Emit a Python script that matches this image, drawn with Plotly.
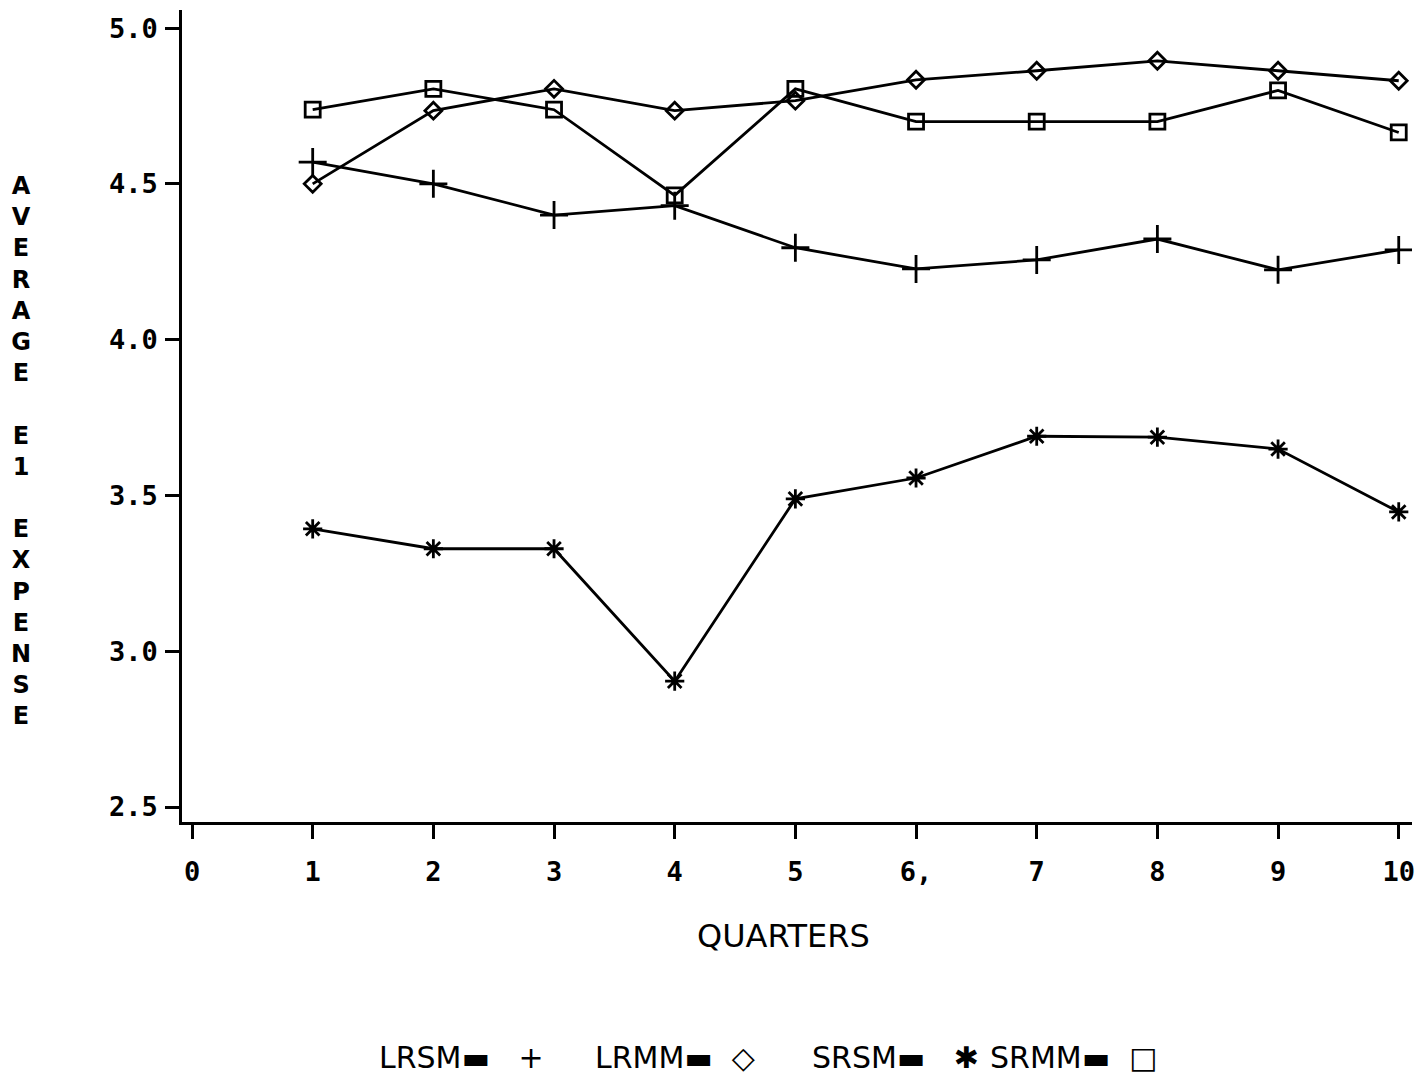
import plotly.graph_objects as go

quarters = [1, 2, 3, 4, 5, 6, 7, 8, 9, 10]
lrsm = [4.57, 4.50, 4.40, 4.43, 4.295, 4.227, 4.256, 4.323, 4.224, 4.288]
lrmm = [4.50, 4.735, 4.805, 4.735, 4.767, 4.834, 4.863, 4.895, 4.863, 4.831]
srsm = [3.393, 3.329, 3.329, 2.904, 3.489, 3.556, 3.69, 3.687, 3.649, 3.447]
srmm = [4.738, 4.805, 4.738, 4.463, 4.805, 4.70, 4.70, 4.70, 4.80, 4.665]

x_ticks = [0, 1, 2, 3, 4, 5, 6, 7, 8, 9, 10]
x_ticktext = ["0", "1", "2", "3", "4", "5", "6,", "7", "8", "9", "10"]
y_ticks = [2.5, 3.0, 3.5, 4.0, 4.5, 5.0]

series = [
    ("LRSM", lrsm, "cross-thin", 20),
    ("LRMM", lrmm, "diamond-open", 13),
    ("SRSM", srsm, "asterisk", 16),
    ("SRMM", srmm, "square-open", 15),
]

legend_items = [
    ("LRSM\u25ac\u00a0\u00a0\u00a0+", 377),
    ("LRMM\u25ac\u00a0\u00a0\u25c7", 594),
    ("SRSM\u25ac\u00a0\u00a0\u00a0\u2731", 812),
    ("SRMM\u25ac\u00a0\u00a0\u25a1", 990),
]

fig = go.Figure()
for name, vals, sym, sz in series:
    fig.add_trace(go.Scatter(
        x=quarters, y=vals, mode="lines+markers", name=name,
        line=dict(color="black", width=2.8),
        marker=dict(symbol=sym, size=sz, color="black",
                    line=dict(color="black", width=2.8)),
        showlegend=False,
    ))

tickfont = dict(family="DejaVu Sans Mono", size=27, color="black", weight="bold")

L, W = 182, 1233
fig.update_layout(
    width=1420, height=1075,
    margin=dict(l=L, r=1420 - L - W, t=10, b=253),
    paper_bgcolor="white", plot_bgcolor="white",
    xaxis=dict(
        range=[-0.083, 10.11], tickvals=x_ticks, ticktext=x_ticktext,
        showgrid=False, zeroline=False, showline=True, linecolor="black",
        linewidth=2.8, ticks="outside", ticklen=14, tickwidth=2.8,
        tickcolor="black", tickfont=tickfont, ticklabelstandoff=10,
    ),
    yaxis=dict(
        range=[2.452, 5.058], tickvals=y_ticks, tickformat=".1f",
        showgrid=False, zeroline=False, showline=True, linecolor="black",
        linewidth=2.8, ticks="outside", ticklen=14, tickwidth=2.8,
        tickcolor="black", tickfont=tickfont, ticklabelstandoff=2,
    ),
)

ylabel = "<br>".join(list("AVERAGE") + [" "] + list("E1") + [" "] + list("EXPENSE"))
fig.add_annotation(
    text=ylabel, xref="paper", yref="paper", x=-0.131, y=0.457,
    xanchor="center", yanchor="middle", showarrow=False, align="center",
    font=dict(family="DejaVu Sans", size=24, color="black", weight="bold"),
)
fig.add_annotation(
    text="QUARTERS", xref="paper", yref="paper", x=(785 - L) / W, y=-0.14,
    xanchor="center", yanchor="middle", showarrow=False,
    font=dict(family="DejaVu Sans", size=32, color="black"),
)
for txt, px in legend_items:
    fig.add_annotation(
        text=txt, xref="paper", yref="paper", x=(px - L) / W, y=-0.290,
        xanchor="left", yanchor="middle", showarrow=False,
        font=dict(family="DejaVu Sans", size=30, color="black"),
    )

fig.write_html("out.html")
